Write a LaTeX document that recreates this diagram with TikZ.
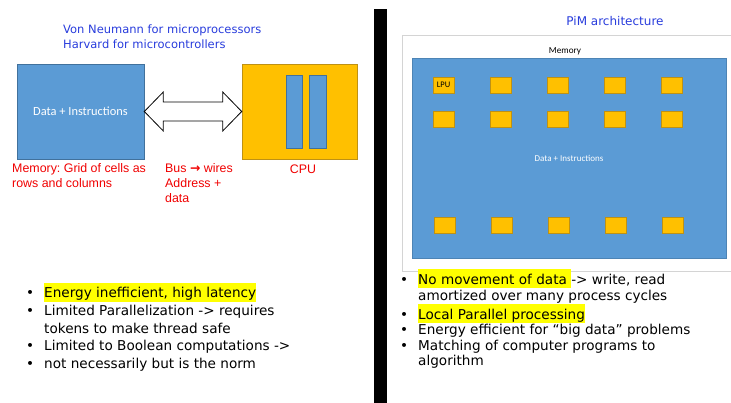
\documentclass[tikz,border=0pt]{standalone}
\usepackage{fontspec}
\setmainfont{DejaVu Sans}
\newfontfamily\arialfont{Liberation Sans}
\newfontfamily\calfont{Carlito}
\usetikzlibrary{positioning,calc}
\frenchspacing

\definecolor{memblue}{RGB}{91,155,213}
\definecolor{memedge}{RGB}{65,113,156}
\definecolor{cpugold}{RGB}{255,192,0}
\definecolor{cpuedge}{RGB}{190,145,20}
\definecolor{titleblue}{RGB}{40,60,220}
\definecolor{notered}{RGB}{240,0,0}
\definecolor{hlyellow}{RGB}{255,255,0}
\definecolor{pimframe}{RGB}{212,212,212}

\newcommand{\hlt}[1]{{\setlength{\fboxsep}{0pt}\colorbox{hlyellow}{\rule[-3.8pt]{0pt}{19pt}#1}}}
\newcommand{\bul}{\llap{\textbullet\hspace{10pt}}}

\tikzset{
  block/.style={draw=memedge, fill=memblue, line width=0.6pt, inner sep=0pt},
  cpubox/.style={draw=cpuedge, fill=cpugold, line width=0.6pt, inner sep=0pt},
  lpubox/.style={draw=cpuedge, fill=cpugold, line width=0.4pt, inner sep=0pt,
    minimum width=21pt, minimum height=16pt, font=\calfont\fontsize{8.5}{10}\selectfont},
  note/.style={anchor=base west, inner sep=0pt, align=left, text=notered,
    font=\arialfont\fontsize{12.4}{15}\selectfont},
  heading/.style={anchor=base west, inner sep=0pt, align=left, text=titleblue,
    font=\fontsize{11.5}{15}\selectfont},
  itemlist/.style={anchor=base west, inner sep=0pt, align=left},
  busarrow/.style={draw=black, fill=white, line width=0.8pt, line join=miter}
}

\begin{document}
\begin{tikzpicture}[x=1pt, y=-1pt]
  \useasboundingbox (0,0) rectangle (731,403);

  % von Neumann side (multi-line nodes sit on their last baseline)
  \node[heading] (vntitle) at (63,49) {Von Neumann for microprocessors\\Harvard for microcontrollers};
  \node[block, minimum width=127pt, minimum height=95pt, text=white,
    font=\calfont\fontsize{12.4}{14}\selectfont] (mem) at (80.5,111.5) {Data + Instructions};
  \node[cpubox, minimum width=115pt, minimum height=95pt] (cpu) at (299.5,111.5) {};
  \node[block, minimum width=16pt, minimum height=73pt] (reg1) at (294,111.5) {};
  \node[block, minimum width=17pt, minimum height=73pt] (reg2) at (317.5,111.5) {};

  % bus between memory and cpu
  \draw[busarrow] (mem.east) -- ++(19,-19.5) -- ++(0,10)
    -- ($(cpu.west)+(-19,-9.5)$) -- ++(0,-10) -- (cpu.west)
    -- ++(-19,19.5) -- ++(0,-10) -- ($(mem.east)+(19,9.5)$) -- ++(0,10) -- cycle;

  \node[note] (memnote) at (12,188) {Memory: Grid of cells as\\rows and columns};
  \node[note] (busnote) at (165,203) {Bus {\fontspec{DejaVu Sans}\bfseries →} wires\\Address +\\data};
  \node[note, anchor=base] (cpunote) at (303,174) {CPU};

  \node[itemlist, font=\fontsize{13.6}{17.6}\selectfont] (vnlist) at (44,368.4) {%
    \bul\hlt{Energy inefficient, high latency}\\
    \bul Limited Parallelization -> requires\\
    tokens to make thread safe\\
    \bul Limited to Boolean computations ->\\
    \bul not necessarily but is the norm};

  % separator
  \fill[black] (374,9) rectangle (387,403);

  % PiM side
  \node[heading, anchor=base, font=\fontsize{12}{15}\selectfont] (pimtitle) at (615,26) {PiM architecture};
  \node[draw=pimframe, fill=white, line width=0.8pt, minimum width=338pt, minimum height=236pt,
    inner sep=0pt] (frame) at (571,153) {};
  \node[inner sep=0pt, anchor=base, font=\calfont\fontsize{9.2}{11}\selectfont] (memlabel) at (565,54) {Memory};
  \node[draw=memblue!85!black, fill=memblue, line width=0.4pt, minimum width=314pt, minimum height=200pt,
    inner sep=0pt, text=white, font=\calfont\fontsize{9}{11}\selectfont] (pim) at (569,158) {Data + Instructions};
  \foreach \c [count=\i] in {443.5,500.5,557.5,614.5,671.5} {
    \node[lpubox] (lpu-1-\i) at (\c,85) {\ifnum\i=1 LPU\fi};
    \node[lpubox] (lpu-2-\i) at (\c,119) {};
    \node[lpubox] (lpu-3-\i) at (\c+1,225) {};
  }

  \node[itemlist, font=\fontsize{13.6}{15.6}\selectfont] (pimlist) at (418,366) {%
    \bul\hlt{No movement of data }-> write, read\\
    amortized over many process cycles\\
    \bul\hlt{Local Parallel processing}\\
    \bul Energy efficient for “big data” problems\\
    \bul Matching of computer programs to\\
    algorithm};
\end{tikzpicture}
\end{document}
